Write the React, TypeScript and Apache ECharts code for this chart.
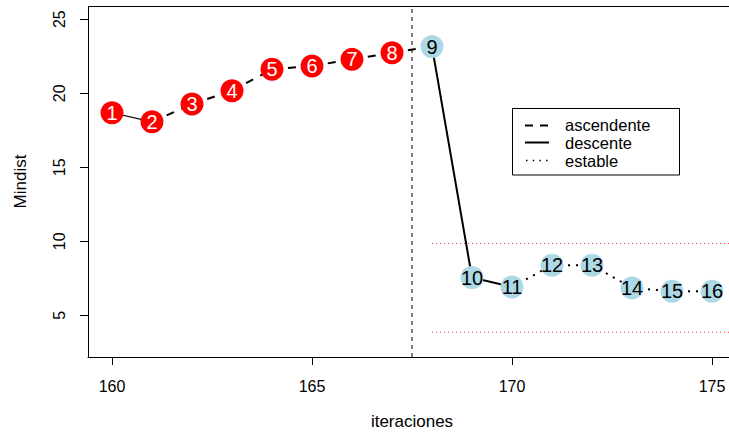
import React, { useEffect, useRef } from "react";
import * as echarts from "echarts";

const iterations = [160, 161, 162, 163, 164, 165, 166, 167, 168, 169, 170, 171, 172, 173, 174, 175];
const mindist = [18.68, 18.07, 19.27, 20.17, 21.62, 21.84, 22.29, 22.74, 23.15, 7.55, 6.91, 8.38, 8.38, 6.85, 6.62, 6.62];
const pointLabels = ["1", "2", "3", "4", "5", "6", "7", "8", "9", "10", "11", "12", "13", "14", "15", "16"];
// phase of each point: 0 = before the break (red), 1 = after (light blue)
const pointPhase = [0, 0, 0, 0, 0, 0, 0, 0, 1, 1, 1, 1, 1, 1, 1, 1];
// state of the segment from point i to point i+1
const segmentStates = [
  "descente",
  "ascendente", "ascendente", "ascendente", "ascendente", "ascendente", "ascendente", "ascendente",
  "descente", "descente",
  "estable", "estable", "estable", "estable", "estable",
];
const legendLabels = ["ascendente", "descente", "estable"];
const xTicks = [160, 165, 170, 175];
const yTicks = [5, 10, 15, 20, 25];
const breakIteration = 167.5;
const stableStart = 168;
const stableUpper = 9.85;
const stableLower = 3.85;

const FONT = "Liberation Sans, Arial, Helvetica, sans-serif";

export default function App() {
  const ref = useRef<HTMLDivElement>(null);

  useEffect(() => {
    if (!ref.current) return;
    const chart = echarts.init(ref.current, null, { renderer: "svg" });

    const xMin = 159.4;
    const xMax = 175.425;
    const yMin = 2.18;
    const yMax = 25.86;

    const segmentStyle: Record<string, any> = {
      ascendente: { type: [8, 8], width: 2 },
      descente: { type: "solid", width: 2 },
      estable: { type: [2, 6], width: 2 },
    };

    const segmentSeries = segmentStates.map((st, i) => ({
      type: "line",
      data: [
        [iterations[i], mindist[i]],
        [iterations[i + 1], mindist[i + 1]],
      ],
      symbol: "none",
      silent: true,
      z: 3,
      lineStyle: {
        color: "#000",
        width: i === 0 ? 1.2 : segmentStyle[st].width,
        type: segmentStyle[st].type,
      },
    }));

    const mkPoints = (phase: number) =>
      iterations
        .map((x, i) => ({ value: [x, mindist[i]], name: pointLabels[i], phase: pointPhase[i] }))
        .filter((d) => d.phase === phase)
        .map((d) => ({ value: d.value, name: d.name }));

    const legendRows = [124.5, 142.5, 160.5];

    const option: any = {
      animation: false,
      grid: { left: 88, top: 6.5, right: 0, bottom: 81, show: false },
      xAxis: {
        type: "value",
        min: xMin,
        max: xMax,
        axisLine: { show: true, lineStyle: { color: "#000", width: 1 } },
        splitLine: { show: false },
        axisTick: { show: true, length: 8, inside: false, lineStyle: { color: "#000" }, customValues: xTicks },
        axisLabel: { show: true, customValues: xTicks, fontSize: 16, color: "#000", fontFamily: FONT, margin: 21 },
      },
      yAxis: {
        type: "value",
        min: yMin,
        max: yMax,
        axisLine: { show: true, lineStyle: { color: "#000", width: 1 } },
        splitLine: { show: false },
        axisTick: { show: true, length: 8, inside: false, lineStyle: { color: "#000" }, customValues: yTicks },
        axisLabel: { show: true, customValues: yTicks, fontSize: 16, color: "#000", fontFamily: FONT, margin: 21, rotate: 90 },
      },
      series: [
        {
          type: "line",
          data: [[breakIteration, yMin], [breakIteration, yMax]],
          symbol: "none",
          silent: true,
          z: 2,
          lineStyle: { color: "#000", width: 1, type: [4, 4] },
        },
        {
          type: "line",
          data: [[stableStart, stableUpper], [xMax, stableUpper]],
          symbol: "none",
          silent: true,
          z: 2,
          lineStyle: { color: "#ff4040", width: 1, type: [1, 3] },
        },
        {
          type: "line",
          data: [[stableStart, stableLower], [xMax, stableLower]],
          symbol: "none",
          silent: true,
          z: 2,
          lineStyle: { color: "#ff4040", width: 1, type: [1, 3] },
        },
        ...segmentSeries,
        {
          type: "scatter",
          data: mkPoints(0),
          symbol: "circle",
          symbolSize: 23,
          z: 5,
          itemStyle: { color: "#FF0000", opacity: 1 },
          label: { show: true, position: "inside", formatter: "{b}", color: "#fff", fontSize: 20, fontFamily: FONT },
        },
        {
          type: "scatter",
          data: mkPoints(1),
          symbol: "circle",
          symbolSize: 23,
          z: 5,
          itemStyle: { color: "#ADD8E6", opacity: 1 },
          label: { show: true, position: "inside", formatter: "{b}", color: "#000", fontSize: 20, fontFamily: FONT },
        },
      ],
      graphic: [
        {
          type: "line",
          shape: { x1: 88, y1: 6.5, x2: 729, y2: 6.5 },
          style: { stroke: "#000", lineWidth: 1 },
        },
        {
          type: "text",
          x: 412,
          y: 421,
          style: { text: "iteraciones", fontSize: 17, fontFamily: FONT, fill: "#000", align: "center", verticalAlign: "middle" },
        },
        {
          type: "text",
          x: 20,
          y: 181.5,
          rotation: Math.PI / 2,
          style: { text: "Mindist", fontSize: 17, fontFamily: FONT, fill: "#000", align: "center", verticalAlign: "middle" },
        },
        {
          type: "group",
          z: 10,
          children: [
            { type: "rect", shape: { x: 512.5, y: 108.5, width: 167, height: 66.5 }, style: { fill: "#fff", stroke: "#000", lineWidth: 1 } },
            { type: "line", shape: { x1: 525, y1: legendRows[0] + 1, x2: 549, y2: legendRows[0] + 1 }, style: { stroke: "#000", lineWidth: 2, lineDash: [8, 7] } },
            { type: "line", shape: { x1: 525, y1: legendRows[1], x2: 549, y2: legendRows[1] }, style: { stroke: "#000", lineWidth: 2 } },
            { type: "line", shape: { x1: 526, y1: legendRows[2], x2: 549, y2: legendRows[2] }, style: { stroke: "#000", lineWidth: 1.5, lineDash: [1.5, 5.2] } },
            { type: "text", x: 565, y: legendRows[0], style: { text: legendLabels[0], fontSize: 16.5, fontFamily: FONT, fill: "#000", verticalAlign: "middle" } },
            { type: "text", x: 565, y: legendRows[1], style: { text: legendLabels[1], fontSize: 16.5, fontFamily: FONT, fill: "#000", verticalAlign: "middle" } },
            { type: "text", x: 565, y: legendRows[2], style: { text: legendLabels[2], fontSize: 16.5, fontFamily: FONT, fill: "#000", verticalAlign: "middle" } },
          ],
        },
      ],
    };

    chart.setOption(option);
    return () => chart.dispose();
  }, []);

  return (
    <div
      ref={ref}
      style={{ position: "fixed", left: 0, top: 0, width: 729, height: 438, background: "#fff", overflow: "hidden" }}
    />
  );
}
